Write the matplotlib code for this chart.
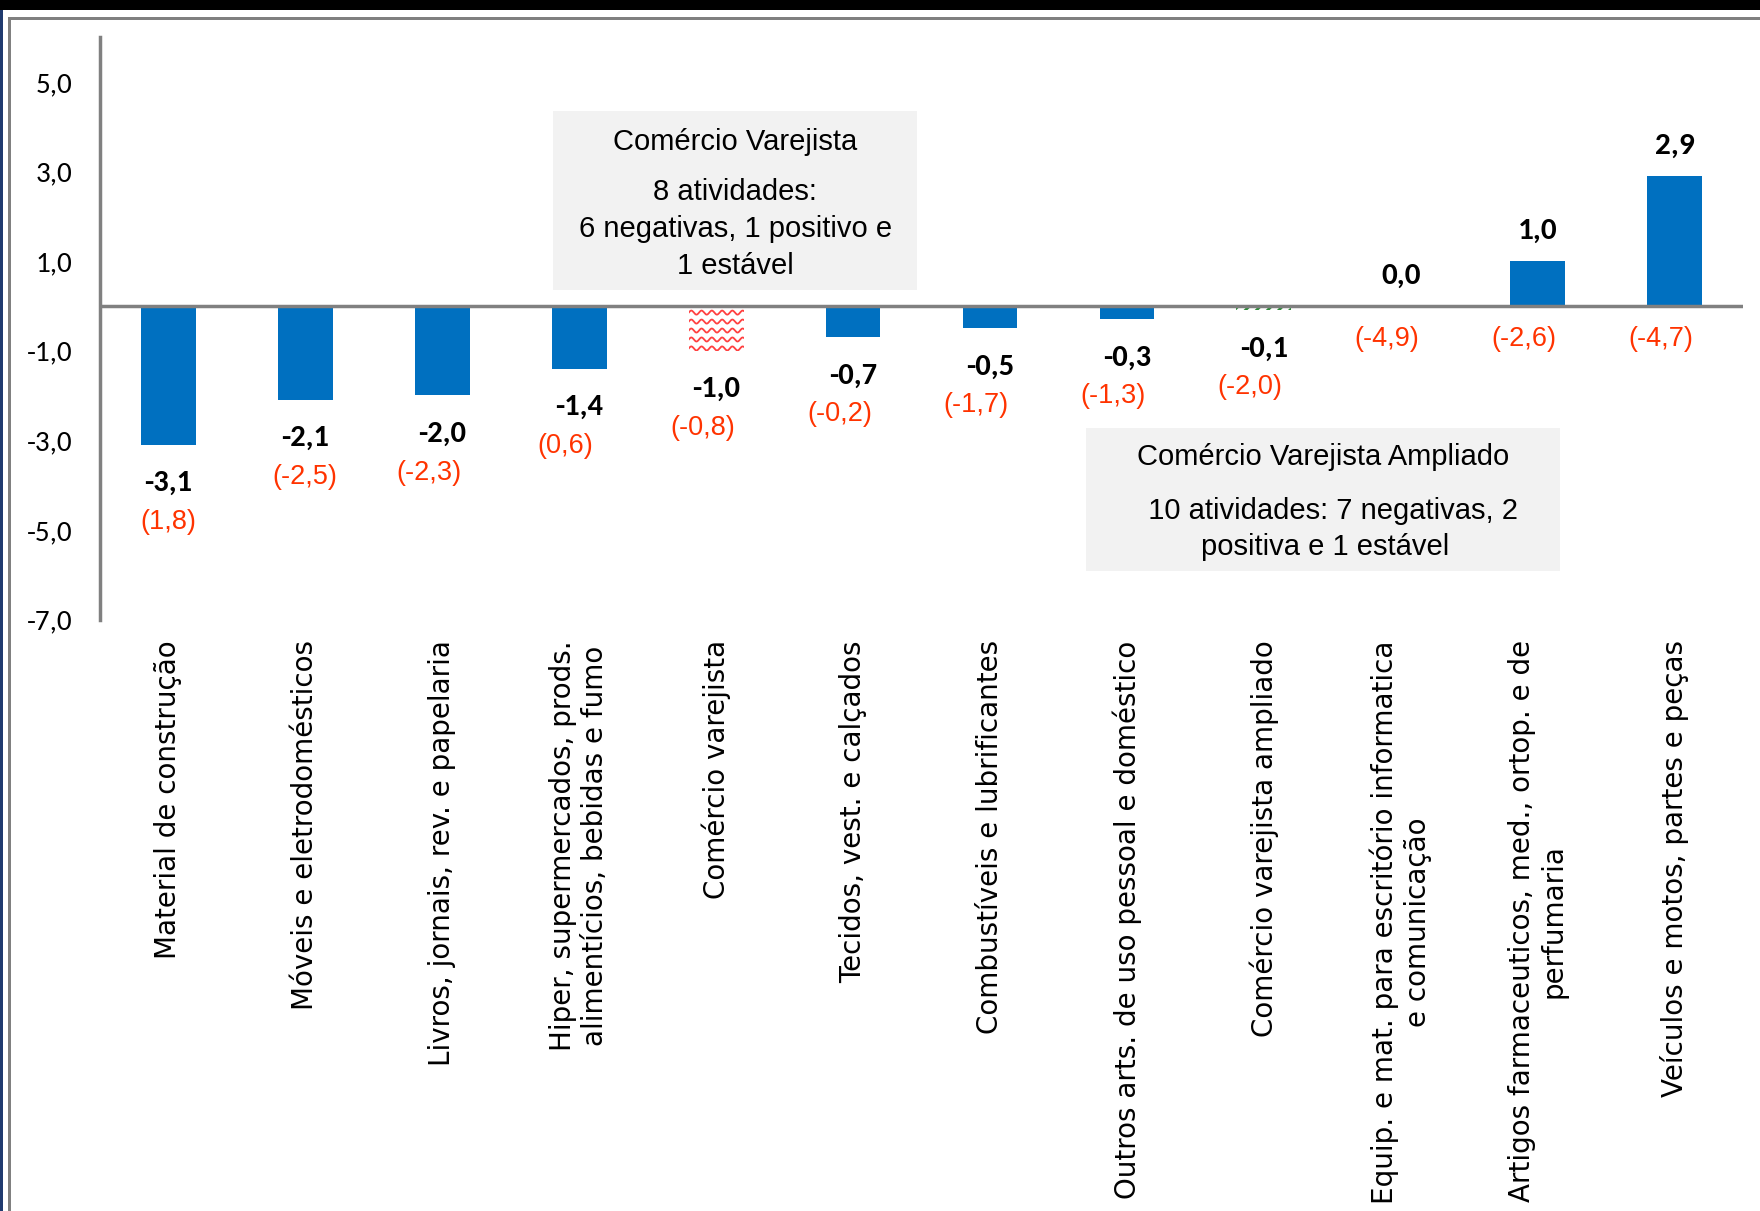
import numpy as np
import matplotlib
matplotlib.use("Agg")
import matplotlib.pyplot as plt
from matplotlib.patches import Rectangle
from matplotlib import font_manager

# dados
categorias = [
    "Material de construção",
    "Móveis e eletrodomésticos",
    "Livros, jornais, rev. e papelaria",
    "Hiper, supermercados, prods.\nalimentícios, bebidas e fumo",
    "Comércio varejista",
    "Tecidos, vest. e calçados",
    "Combustíveis e lubrificantes",
    "Outros arts. de uso pessoal e doméstico",
    "Comércio varejista ampliado",
    "Equip. e mat. para escritório informatica\ne comunicação",
    "Artigos farmaceuticos, med., ortop. e de\nperfumaria",
    "Veículos e motos, partes e peças",
]
valores = [-3.1, -2.1, -2.0, -1.4, -1.0, -0.7, -0.5, -0.3, -0.1, 0.0, 1.0, 2.9]
anteriores = ["(1,8)", "(-2,5)", "(-2,3)", "(0,6)", "(-0,8)", "(-0,2)", "(-1,7)",
              "(-1,3)", "(-2,0)", "(-4,9)", "(-2,6)", "(-4,7)"]
estilo = ["azul"] * 4 + ["onda"] + ["azul"] * 3 + ["verde"] + ["azul"] * 3
yticks = [-7, -5, -3, -1, 1, 3, 5]

nomes = {f.name for f in font_manager.fontManager.ttflist}
estreita = "DejaVu Sans"
for nome in ["Carlito", "Liberation Sans Narrow", "Roboto Condensed",
             "Open Sans Condensed", "DejaVu Sans Condensed", "Roboto"]:
    if nome in nomes:
        estreita = nome
        break
arial = "Liberation Sans"

AZUL = "#0070C0"
VERMELHO = "#FF3300"
CINZA = "#808080"

plt.rcParams["hatch.linewidth"] = 2.0

fig = plt.figure(figsize=(17.6, 12.11), dpi=100)
ax = fig.add_axes([89 / 1568, 1 - 552 / 1079, (1553 - 89) / 1568, (552 - 33) / 1079])

x = np.arange(len(categorias))
barras = ax.bar(x, valores, width=0.4, color=AZUL, zorder=2)

for b, e in zip(barras, estilo):
    if e == "verde":
        b.set_facecolor("white")
        b.set_edgecolor("#2E8B3A")
        b.set_hatch("///")
        b.set_linewidth(0)
    elif e == "onda":
        b.set_facecolor("white")
        b.set_linewidth(0)
        x0, y0 = b.get_x(), b.get_y()
        w, h = b.get_width(), b.get_height()
        xs = np.linspace(x0, x0 + w, 200)
        for yy in np.arange(min(y0, y0 + h) + 0.05, max(y0, y0 + h), 0.2):
            ln, = ax.plot(xs, yy + 0.045 * np.sin(2 * np.pi * (xs - x0) / 0.075),
                          color="#FF4040", lw=1.3, zorder=3)
            ln.set_clip_path(b)

# linha do zero
ax.axhline(0, color=CINZA, lw=2.5, zorder=4)

# rótulos dos valores
for i, v in enumerate(valores):
    txt = f"{v:.1f}".replace(".", ",")
    dx = 0 if i < 2 else -0.1
    if v < 0:
        ax.text(i, v - 0.85, txt, ha="center", va="center", fontsize=22,
                fontweight="bold", family=estreita)
        ax.text(i + dx, v - 1.72, anteriores[i], ha="center", va="center",
                fontsize=19.5, color=VERMELHO, family=arial)
    else:
        ax.text(i, v + 0.68, txt, ha="center", va="center", fontsize=22.5,
                fontweight="bold", family=estreita)
        ax.text(i + dx, -0.75, anteriores[i], ha="center", va="center",
                fontsize=19.5, color=VERMELHO, family=arial)

ax.set_xlim(-0.5, len(categorias) - 0.5)
ax.set_ylim(-7, 6)
ax.set_yticks(yticks)
ax.set_yticklabels([f"{t:.1f}".replace(".", ",") for t in yticks],
                   fontsize=21, family=estreita)
ax.tick_params(axis="y", length=0, pad=20)
ax.set_xticks(x)
ax.set_xticklabels(categorias, rotation=90, fontsize=20, family="DejaVu Sans",
                   ha="center", va="top", multialignment="center")
ax.tick_params(axis="x", length=0, pad=15)

for s in ["top", "right", "bottom"]:
    ax.spines[s].set_visible(False)
ax.spines["left"].set_color(CINZA)
ax.spines["left"].set_linewidth(2.5)

# caixas de texto
ax.add_patch(Rectangle((2.81, 0.35), 2.66, 4.0, facecolor="#F2F2F2",
                       edgecolor="none", zorder=1))
ax.text(4.14, 3.66, "Comércio Varejista", ha="center", va="center",
        fontsize=21, family=arial)
ax.text(4.14, 1.72, "8 atividades:\n6 negativas, 1 positivo e\n1 estável", ha="center",
        va="center", fontsize=21, family=arial, linespacing=1.4)

ax.add_patch(Rectangle((6.70, -5.925), 3.46, 3.2, facecolor="#F2F2F2",
                       edgecolor="none", zorder=1))
ax.text(8.43, -3.38, "Comércio Varejista Ampliado", ha="center", va="center",
        fontsize=21, family=arial)
ax.text(8.45, -4.98, "  10 atividades: 7 negativas, 2\npositiva e 1 estável", ha="center",
        va="center", fontsize=21, family=arial, linespacing=1.4)

# moldura
fig.add_artist(Rectangle((0, 1 - 10 / 1211), 1, 10 / 1211, transform=fig.transFigure,
                         facecolor="black", edgecolor="none"))
fig.add_artist(Rectangle((8 / 1760, 1 - 20 / 1211), 1, 3 / 1211, transform=fig.transFigure,
                         facecolor=CINZA, edgecolor="none"))
fig.add_artist(Rectangle((0, 0), 3 / 1760, 1 - 10 / 1211, transform=fig.transFigure,
                         facecolor="#1F3A6E", edgecolor="none"))
fig.add_artist(Rectangle((8 / 1760, 0), 3 / 1760, 1 - 17 / 1211, transform=fig.transFigure,
                         facecolor=CINZA, edgecolor="none"))

plt.savefig("out.png", dpi=100)
